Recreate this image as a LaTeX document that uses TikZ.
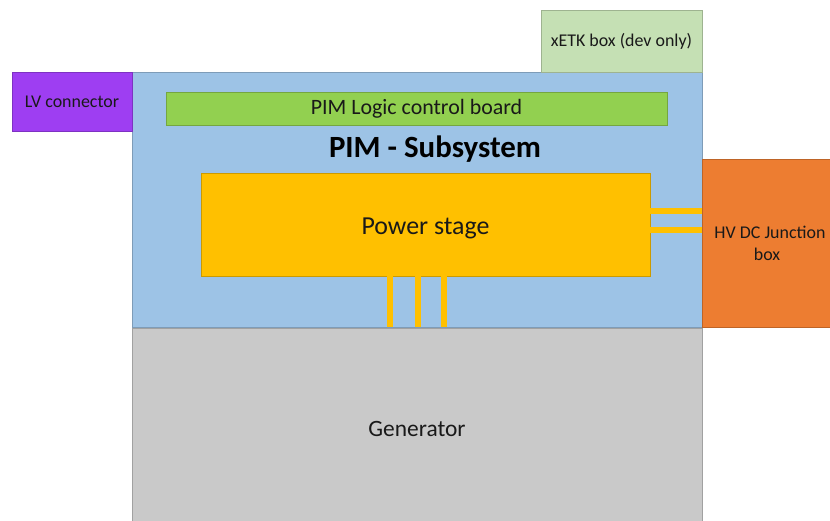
\documentclass[tikz,border=0pt]{standalone}
\usepackage{fontspec}
\setmainfont{Carlito}
\definecolor{pimblue}{HTML}{9DC3E6}
\definecolor{lvpurple}{HTML}{9E3EF2}
\definecolor{etkgreen}{HTML}{C5E0B4}
\definecolor{logicgreen}{HTML}{92D050}
\definecolor{stageyellow}{HTML}{FFC000}
\definecolor{hvorange}{HTML}{ED7D31}
\definecolor{gengrey}{HTML}{C9C9C9}
\newcommand{\fsz}[2]{\fontsize{#1}{#2}\selectfont}
\begin{document}
\begin{tikzpicture}[x=1bp, y=-1bp,
    block/.style={draw=#1!80!black, fill=#1, line width=0.8bp, inner sep=0pt,
        text=black!90, align=center},
    bus/.style={draw=stageyellow, line width=6.5bp}]
    \useasboundingbox (0,0) rectangle (830,521);
    % housing and generator
    \node[block=pimblue, minimum width=570bp, minimum height=255bp] (pim) at (417,199.5) {};
    \node[block=gengrey, minimum width=570bp, minimum height=200bp,
        font=\fsz{23.5}{28}] (gen) at (417,428.5) {Generator};
    % side boxes
    \node[block=hvorange, minimum width=130bp, minimum height=168bp,
        font=\fsz{18}{22}] (hv) at (767,243) {\hspace*{6bp}HV DC Junction\\box};
    \node[block=lvpurple, minimum width=120bp, minimum height=59bp,
        font=\fsz{18}{22}] (lv) at (72,101.5) {LV connector};
    \node[block=etkgreen, minimum width=161bp, minimum height=62bp,
        font=\fsz{18}{22}] (etk) at (621.5,41) {xETK box (dev only)};
    % inside the PIM
    \node[block=logicgreen, minimum width=501bp, minimum height=33bp,
        font=\fsz{22}{26}] (logic) at (416.5,108.5) {PIM Logic control board};
    \node[font=\bfseries\fsz{31}{36}, text=black] (pimlabel) at (435,149.5) {PIM - Subsystem};
    \node[block=stageyellow, minimum width=449bp, minimum height=103bp] (power) at (425.5,224.5) {};
    \node[font=\fsz{26}{30}, text=black!90] (powerlabel) at ([yshift=-3.5bp]power.center) {Power stage};
    % bus bars
    \foreach \dx in {-35.5,-7.5,18.5}
        \draw[bus] ([xshift=\dx bp]power.south) -- ([xshift=\dx bp]power.south |- pim.south);
    \foreach \dy in {13.5,-5.5}
        \draw[bus, line width=6bp] ([yshift=\dy bp]power.east) -- ([yshift=\dy bp]power.east -| hv.west);
\end{tikzpicture}
\end{document}
